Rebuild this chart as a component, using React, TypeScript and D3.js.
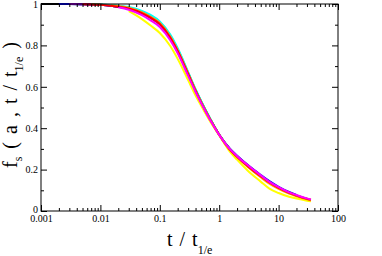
import * as d3 from 'd3'
import { useEffect, useRef } from 'react'

// shared time grid, t / t_1/e
const tGrid = [
  0.001, 0.002, 0.003, 0.005, 0.007, 0.01, 0.015, 0.02, 0.03, 0.05, 0.07, 0.1, 0.15, 0.2, 0.3, 0.4, 0.5, 0.7, 1,
  1.5, 2, 3, 5, 7, 10, 15, 20, 30, 35,
]

// f_s values per run, null where the run has no data
const fBlack = [1, 1, 1, 0.999, 0.998, 0.996, 0.992, 0.987, 0.978, 0.956, 0.934, 0.904, 0.839, 0.774, 0.663, 0.582, 0.524, 0.444, 0.368, 0.3, 0.264, null, null, null, null, null, null, null, null]
const fBlue = [null, 1, 1, 0.999, 0.998, 0.996, 0.992, 0.987, 0.978, 0.956, 0.934, 0.903, 0.838, 0.773, 0.662, 0.582, 0.525, 0.445, 0.368, 0.302, 0.267, 0.223, 0.174, 0.144, 0.117, 0.092, 0.078, null, null]
const fViolet = [null, null, 1, 0.999, 0.998, 0.996, 0.992, 0.987, 0.977, 0.955, 0.933, 0.902, 0.837, 0.772, 0.661, 0.581, 0.524, 0.444, 0.368, 0.301, 0.266, 0.222, 0.172, null, null, null, null, null, null]
const fGreen = [null, null, null, null, 0.999, 0.997, 0.994, 0.99, 0.982, 0.962, 0.942, 0.912, 0.848, 0.782, 0.668, 0.586, 0.528, 0.447, 0.368, 0.299, 0.263, 0.219, 0.169, 0.139, 0.113, 0.088, 0.075, 0.058, null]
const fCyan = [null, null, null, null, null, 0.998, 0.995, 0.992, 0.985, 0.967, 0.947, 0.916, 0.852, 0.786, 0.671, 0.588, 0.529, 0.448, 0.368, 0.299, 0.263, 0.219, 0.169, 0.139, 0.113, null, null, null, null]
const fRed = [null, null, null, 0.999, 0.998, 0.996, 0.992, 0.987, 0.978, 0.956, 0.934, 0.903, 0.838, 0.773, 0.662, 0.581, 0.523, 0.443, 0.368, 0.298, 0.262, 0.218, 0.168, 0.138, 0.112, 0.088, 0.075, 0.059, 0.054]
const fOrange = [null, null, null, null, null, null, 0.994, 0.99, 0.982, 0.96, 0.938, 0.908, 0.843, 0.777, 0.665, 0.583, 0.525, 0.445, 0.368, 0.296, 0.259, 0.214, 0.163, 0.132, 0.107, 0.084, 0.071, 0.056, 0.051]
const fMagenta = [null, null, null, null, null, null, null, 0.984, 0.972, 0.946, 0.921, 0.889, 0.825, 0.762, 0.653, 0.575, 0.519, 0.441, 0.368, 0.3, 0.265, 0.222, 0.172, 0.141, 0.115, 0.09, 0.077, 0.061, 0.056]
const fYellow = [null, null, null, null, null, null, null, null, 0.965, 0.927, 0.896, 0.86, 0.797, 0.735, 0.632, 0.558, 0.507, 0.434, 0.366, 0.288, 0.248, 0.196, 0.142, 0.108, 0.087, 0.069, 0.06, 0.05, 0.047]

const series = [
  { name: 'black', color: '#000000', values: fBlack },
  { name: 'blue', color: '#0000ff', values: fBlue },
  { name: 'violet', color: '#9400d3', values: fViolet },
  { name: 'green', color: '#22bb22', values: fGreen },
  { name: 'cyan', color: '#00ffff', values: fCyan },
  { name: 'yellow', color: '#ffff00', values: fYellow },
  { name: 'orange', color: '#ffa500', values: fOrange },
  { name: 'red', color: '#ff0000', values: fRed },
  { name: 'magenta', color: '#ff00ff', values: fMagenta },
]

const xMajor = [0.001, 0.01, 0.1, 1, 10, 100]
const xLabels = ['0.001', '0.01', '0.1', '1', '10', '100']
const yMajor = [0, 0.2, 0.4, 0.6, 0.8, 1]
const yMinor = [0.1, 0.3, 0.5, 0.7, 0.9]

export default function App() {
  const svgRef = useRef<SVGSVGElement>(null)

  useEffect(() => {
    if (!svgRef.current) return
    const svg = d3.select(svgRef.current)
    svg.selectAll('*').remove()

    const W = 382
    const H = 256
    const margin = { top: 4, right: 44, bottom: 45, left: 41 }
    const innerW = W - margin.left - margin.right
    const innerH = H - margin.top - margin.bottom
    const font = "'Liberation Serif', 'DejaVu Serif', serif"

    const x = d3.scaleLog().domain([0.001, 100]).range([0, innerW])
    const y = d3.scaleLinear().domain([0, 1]).range([innerH, 0])

    const g = svg.append('g').attr('transform', `translate(${margin.left},${margin.top})`)

    const xMinor: number[] = []
    for (let k = 0; k < 5; k++) for (let m = 2; m <= 9; m++) xMinor.push(m * xMajor[k])

    const line = d3
      .line<{ t: number; f: number | null }>()
      .defined((d) => d.f != null)
      .x((d) => x(d.t))
      .y((d) => y(d.f as number))
      .curve(d3.curveMonotoneX)

    for (const s of series) {
      const pts = tGrid.map((t, i) => ({ t, f: s.values[i] }))
      g.append('path')
        .datum(pts)
        .attr('fill', 'none')
        .attr('stroke', s.color)
        .attr('stroke-width', 2)
        .attr('d', line)
    }

    const styleAxis = (sel: d3.Selection<SVGGElement, unknown, null, undefined>) => {
      sel.select('.domain').remove()
      sel.selectAll('line').attr('stroke', '#000')
      sel.selectAll('text').attr('fill', '#000').style('font-family', font).attr('font-size', 10)
    }

    // bottom
    g.append('g')
      .attr('transform', `translate(0,${innerH})`)
      .call(d3.axisBottom(x).tickValues(xMinor).tickSize(-3).tickFormat(() => ''))
      .call(styleAxis)
    g.append('g')
      .attr('transform', `translate(0,${innerH})`)
      .call(
        d3
          .axisBottom(x)
          .tickValues(xMajor)
          .tickSize(-6)
          .tickPadding(4)
          .tickFormat((_, i) => xLabels[i]),
      )
      .call(styleAxis)
    // top (mirror)
    g.append('g').call(d3.axisTop(x).tickValues(xMinor).tickSize(-3).tickFormat(() => '')).call(styleAxis)
    g.append('g').call(d3.axisTop(x).tickValues(xMajor).tickSize(-6).tickFormat(() => '')).call(styleAxis)
    // left
    g.append('g').call(d3.axisLeft(y).tickValues(yMinor).tickSize(-3).tickFormat(() => '')).call(styleAxis)
    g.append('g')
      .call(d3.axisLeft(y).tickValues(yMajor).tickSize(-6).tickPadding(3).tickFormat(d3.format('')))
      .call(styleAxis)
      .call((s) => s.selectAll<SVGTextElement, number>('text').filter((d) => d === 0).attr('dy', '0.1em'))
    // right (mirror)
    g.append('g')
      .attr('transform', `translate(${innerW},0)`)
      .call(d3.axisRight(y).tickValues(yMinor).tickSize(-3).tickFormat(() => ''))
      .call(styleAxis)
    g.append('g')
      .attr('transform', `translate(${innerW},0)`)
      .call(d3.axisRight(y).tickValues(yMajor).tickSize(-6).tickFormat(() => ''))
      .call(styleAxis)

    g.append('rect')
      .attr('width', innerW)
      .attr('height', innerH)
      .attr('fill', 'none')
      .attr('stroke', '#000')
      .attr('stroke-width', 1)

    // x title
    const xt = svg
      .append('text')
      .attr('x', 167)
      .attr('y', 246)
      .style('font-family', font)
      .style('word-spacing', '2px')
      .attr('font-size', 20)
      .attr('fill', '#000')
    xt.append('tspan').text('t / t')
    xt.append('tspan').attr('dy', 8).attr('font-size', 12).text('1/e')

    // y title
    const yt = svg
      .append('text')
      .attr('transform', 'translate(17,168) rotate(-90)')
      .style('font-family', font)
      .style('word-spacing', '3px')
      .attr('font-size', 20)
      .attr('fill', '#000')
    yt.append('tspan').text('f')
    yt.append('tspan').attr('dy', 5).attr('font-size', 12).text('s')
    yt.append('tspan').attr('dy', -5).text(' ( a , t / t')
    yt.append('tspan').attr('dy', 6).attr('font-size', 12).text('1/e')
    yt.append('tspan').attr('dy', -6).text(' )')
  }, [])

  return (
    <svg
      ref={svgRef}
      width={382}
      height={256}
      style={{ position: 'absolute', left: 0, top: 0, background: '#fff' }}
    />
  )
}
